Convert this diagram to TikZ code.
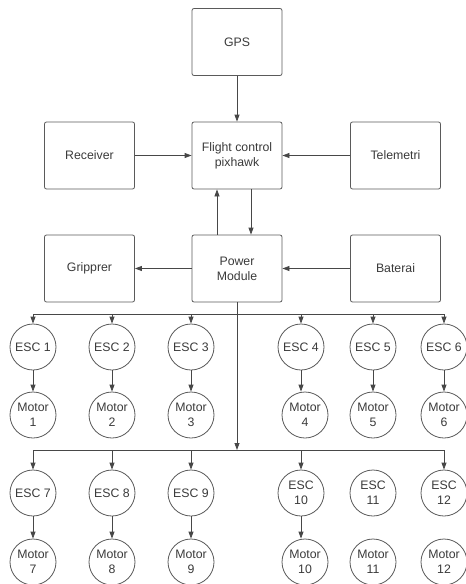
\documentclass[tikz,border=0pt]{standalone}
\usepackage{fontspec}
\setmainfont{Liberation Sans}
\usetikzlibrary{arrows.meta}
\definecolor{edge}{HTML}{5A5A5A}
\definecolor{txt}{HTML}{3A3A3A}
\definecolor{wire}{HTML}{474747}
\begin{document}
\begin{tikzpicture}[x=1pt,y=-1pt,
  box/.style={draw=edge,line width=0.8pt,rounded corners=2pt,minimum width=90pt,minimum height=67pt,
    align=center,text=txt,font=\fontsize{12.3}{15}\selectfont,inner sep=0pt},
  disc/.style={draw=edge,line width=0.8pt,circle,minimum size=46pt,inner sep=0pt,
    align=center,text=txt,font=\fontsize{12.3}{15}\selectfont},
  wireline/.style={draw=wire,line width=0.8pt},
  arr/.style={wireline,-{Triangle[length=7pt,width=5pt]}}]
\useasboundingbox (0,0) rectangle (466,584);
% boxes
\node[box] (gps) at (237,42) {GPS};
\node[box] (fc) at (237,155.5) {Flight control\\pixhawk};
\node[box] (rec) at (89.5,155.5) {Receiver};
\node[box] (tel) at (395.5,155.5) {Telemetri};
\node[box] (grip) at (89.5,268.5) {Gripprer};
\node[box] (pm) at (237,268.5) {Power\\Module};
\node[box] (bat) at (395.5,268.5) {Baterai};
% ESC / motor row 1
\node[disc] (esc1) at (33,347) {ESC 1};
\node[disc] (esc2) at (112,347) {ESC 2};
\node[disc] (esc3) at (191,347) {ESC 3};
\node[disc] (esc4) at (301,347) {ESC 4};
\node[disc] (esc5) at (373,347) {ESC 5};
\node[disc] (esc6) at (444,347) {ESC 6};
\node[disc] (mot1) at (33,415) {Motor\\1};
\node[disc] (mot2) at (112,415) {Motor\\2};
\node[disc] (mot3) at (191,415) {Motor\\3};
\node[disc] (mot4) at (305,415) {Motor\\4};
\node[disc] (mot5) at (373,415) {Motor\\5};
\node[disc] (mot6) at (444,415) {Motor\\6};
% row 2
\node[disc] (esc7) at (33,493) {ESC 7};
\node[disc] (esc8) at (112,493) {ESC 8};
\node[disc] (esc9) at (191,493) {ESC 9};
\node[disc] (esc10) at (301,493) {ESC\\10};
\node[disc] (esc11) at (373,493) {ESC\\11};
\node[disc] (esc12) at (444,493) {ESC\\12};
\node[disc] (mot7) at (33,562) {Motor\\7};
\node[disc] (mot8) at (112,562) {Motor\\8};
\node[disc] (mot9) at (191,562) {Motor\\9};
\node[disc] (mot10) at (305,562) {Motor\\10};
\node[disc] (mot11) at (373,562) {Motor\\11};
\node[disc] (mot12) at (444,562) {Motor\\12};
% connectors top
\draw[arr] (gps.south) -- (fc.north);
\draw[arr] (rec.east) -- (fc.west);
\draw[arr] (tel.west) -- (fc.east);
\draw[arr] ([xshift=14pt]fc.south) -- ([xshift=14pt]pm.north);
\draw[arr] ([xshift=-20pt]pm.north) -- ([xshift=-20pt]fc.south);
\draw[arr] (pm.west) -- (grip.east);
\draw[arr] (bat.west) -- (pm.east);
% buses
\coordinate (busA) at (237,314);
\coordinate (busB) at (237,450);
\draw[wireline] (pm.south) -- (busA);
\draw[arr] (busA) -- (busB);
\draw[wireline] (esc1 |- busA) -- (esc6 |- busA);
\draw[wireline] (esc7 |- busB) -- (esc12 |- busB);
\foreach \e in {esc1,esc2,esc3,esc4,esc5,esc6}{
  \draw[arr] (\e |- busA) -- (\e.north);
}
\foreach \e in {esc7,esc8,esc9,esc10,esc12}{
  \draw[arr] (\e |- busB) -- (\e.north);
}
\foreach \e/\m in {esc1/mot1,esc2/mot2,esc3/mot3,esc5/mot5,esc6/mot6,esc7/mot7,esc8/mot8,esc9/mot9}{
  \draw[arr] (\e.south) -- (\m.north);
}
\draw[arr] (esc4.south) -- (esc4.south |- mot4.north);
\draw[arr] (esc10.south) -- (esc10.south |- mot10.north);
\end{tikzpicture}
\end{document}
